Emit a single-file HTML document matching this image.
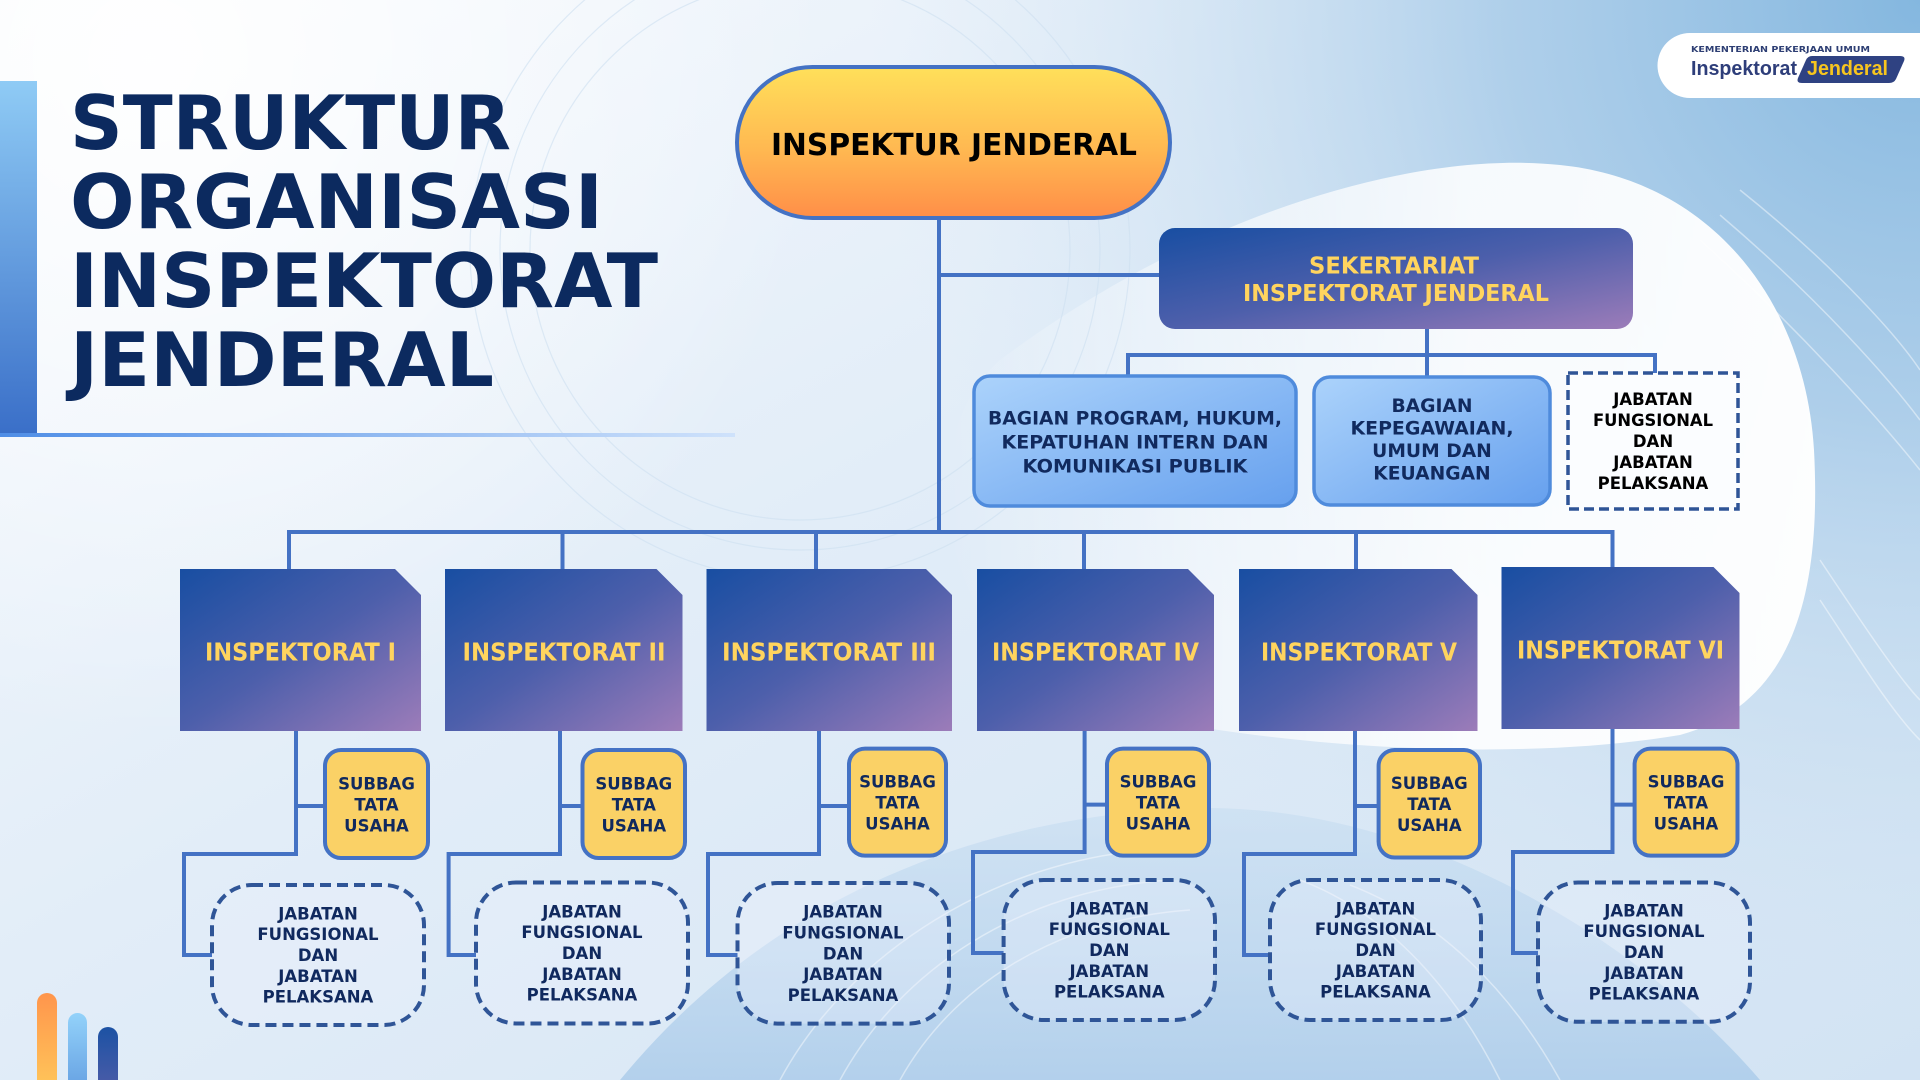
<!DOCTYPE html>
<html>
<head>
<meta charset="utf-8">
<style>
html,body{margin:0;padding:0;width:1920px;height:1080px;overflow:hidden;background:#e4eef8}
svg{display:block}
text{font-family:"DejaVu Sans","Liberation Sans",sans-serif;font-weight:bold}
</style>
</head>
<body>
<svg width="1920" height="1080" viewBox="0 0 1920 1080" xmlns="http://www.w3.org/2000/svg">
<defs>
  <linearGradient id="bgBase" x1="0" y1="0" x2="1" y2="1">
    <stop offset="0" stop-color="#f6f9fd"/>
    <stop offset="0.45" stop-color="#e2edf8"/>
    <stop offset="1" stop-color="#d2e3f3"/>
  </linearGradient>
  <radialGradient id="bgTR" gradientUnits="userSpaceOnUse" cx="1920" cy="0" r="1050">
    <stop offset="0" stop-color="#84b7df" stop-opacity="1"/>
    <stop offset="0.4" stop-color="#a6cae8" stop-opacity="0.85"/>
    <stop offset="1" stop-color="#d6e6f4" stop-opacity="0"/>
  </radialGradient>
  <radialGradient id="bgTL" gradientUnits="userSpaceOnUse" cx="150" cy="60" r="680">
    <stop offset="0" stop-color="#ffffff" stop-opacity="0.95"/>
    <stop offset="1" stop-color="#ffffff" stop-opacity="0"/>
  </radialGradient>
  <linearGradient id="blobG" x1="0" y1="0" x2="1" y2="0">
    <stop offset="0" stop-color="#ffffff" stop-opacity="0"/>
    <stop offset="0.3" stop-color="#ffffff" stop-opacity="0.55"/>
    <stop offset="0.6" stop-color="#ffffff" stop-opacity="0.88"/>
    <stop offset="1" stop-color="#ffffff" stop-opacity="0.97"/>
  </linearGradient>
  <linearGradient id="hillG" x1="0" y1="0" x2="0" y2="1">
    <stop offset="0" stop-color="#c3dbf0" stop-opacity="0.5"/>
    <stop offset="1" stop-color="#acccea" stop-opacity="0.85"/>
  </linearGradient>
  <linearGradient id="leftBar" x1="0" y1="0" x2="0" y2="1">
    <stop offset="0" stop-color="#8fcbf5"/>
    <stop offset="1" stop-color="#3a6fc8"/>
  </linearGradient>
  <linearGradient id="underline" x1="0" y1="0" x2="1" y2="0">
    <stop offset="0" stop-color="#4f8ee6"/>
    <stop offset="1" stop-color="#cfe2fb"/>
  </linearGradient>
  <linearGradient id="pill" x1="0" y1="0" x2="0" y2="1">
    <stop offset="0" stop-color="#ffe05a"/>
    <stop offset="0.55" stop-color="#ffb851"/>
    <stop offset="1" stop-color="#ff8e48"/>
  </linearGradient>
  <linearGradient id="navy" x1="0" y1="0" x2="1" y2="1">
    <stop offset="0" stop-color="#184ea2"/>
    <stop offset="0.5" stop-color="#4d5fab"/>
    <stop offset="1" stop-color="#9c7cb9"/>
  </linearGradient>
  <linearGradient id="lightBlue" x1="0" y1="0" x2="1" y2="1">
    <stop offset="0" stop-color="#acd3fb"/>
    <stop offset="1" stop-color="#66a0ee"/>
  </linearGradient>
  <linearGradient id="barO" x1="0" y1="0" x2="0" y2="1">
    <stop offset="0" stop-color="#ff954c"/>
    <stop offset="1" stop-color="#ffcd5c"/>
  </linearGradient>
  <linearGradient id="barL" x1="0" y1="0" x2="0" y2="1">
    <stop offset="0" stop-color="#93d2fa"/>
    <stop offset="1" stop-color="#5e98de"/>
  </linearGradient>
  <linearGradient id="barD" x1="0" y1="0" x2="0" y2="1">
    <stop offset="0" stop-color="#1c52a4"/>
    <stop offset="1" stop-color="#5a5fa9"/>
  </linearGradient>
</defs>

<!-- background -->
<rect x="0" y="0" width="1920" height="1080" fill="url(#bgBase)"/>
<rect x="0" y="0" width="1920" height="1080" fill="url(#bgTR)"/>
<rect x="0" y="0" width="1920" height="1080" fill="url(#bgTL)"/>
<path d="M1000 360 C1200 210,1420 150,1560 165 C1710 180,1805 300,1814 450 C1822 600,1790 705,1680 735 C1500 765,1250 745,1090 705 C950 660,900 450,1000 360 Z" fill="url(#blobG)"/>
<path d="M620 1080 C760 910,960 815,1200 808 C1420 805,1640 940,1760 1080 Z" fill="url(#hillG)"/>
<g fill="none" stroke="#ffffff" stroke-opacity="0.45" stroke-width="1.5">
  <path d="M1700 240 C1800 330,1880 420,1920 470"/>
  <path d="M1720 215 C1820 300,1890 380,1920 420"/>
  <path d="M1740 190 C1840 270,1900 340,1920 370"/>
  <path d="M1820 560 C1860 620,1900 680,1920 700"/>
  <path d="M1820 600 C1860 660,1890 710,1920 740"/>
  <path d="M780 1080 C850 950,1000 860,1150 850"/>
  <path d="M840 1080 C900 970,1020 890,1170 880"/>
  <path d="M900 1080 C950 990,1050 920,1190 910"/>
  <path d="M1500 1080 C1450 980,1380 910,1300 880"/>
  <path d="M1560 1080 C1510 990,1440 920,1350 885"/>
</g>
<g fill="none" stroke="#cddff0" stroke-opacity="0.6" stroke-width="1.2">
  <circle cx="800" cy="250" r="330"/>
  <circle cx="800" cy="250" r="300"/>
  <circle cx="800" cy="250" r="270"/>
</g>

<!-- left bar + title -->
<rect x="0" y="81" width="37" height="353" fill="url(#leftBar)"/>
<rect x="0" y="433" width="735" height="4" fill="url(#underline)"/>
<g fill="#0c2a5f" font-size="75">
  <text x="70" y="149" textLength="441" lengthAdjust="spacingAndGlyphs">STRUKTUR</text>
  <text x="70" y="228" textLength="533" lengthAdjust="spacingAndGlyphs">ORGANISASI</text>
  <text x="70" y="307" textLength="588" lengthAdjust="spacingAndGlyphs">INSPEKTORAT</text>
  <text x="70" y="386" textLength="424" lengthAdjust="spacingAndGlyphs">JENDERAL</text>
</g>

<!-- bottom-left bars -->
<rect x="37" y="993" width="20" height="110" rx="10" fill="url(#barO)"/>
<rect x="68" y="1013" width="19" height="90" rx="9.5" fill="url(#barL)"/>
<rect x="98" y="1027" width="20" height="80" rx="10" fill="url(#barD)"/>

<!-- logo -->
<path d="M1690 33 H1920 V98 H1690 A32.5 32.5 0 0 1 1690 33 Z" fill="#ffffff"/>
<text x="1691" y="52" font-size="8" fill="#2e3f74" textLength="179" lengthAdjust="spacingAndGlyphs">KEMENTERIAN PEKERJAAN UMUM</text>
<text x="1691" y="75" font-size="20" fill="#2e3e7a" textLength="106" lengthAdjust="spacingAndGlyphs" style="font-family:'Liberation Sans',sans-serif;font-weight:bold">Inspektorat</text>
<path d="M1812 56 H1900 Q1906 56 1904 61 L1896 79 Q1894 83 1889 83 H1802 Q1796 83 1798 78 L1806 60 Q1808 56 1812 56 Z" fill="#2f4282"/>
<text x="1807" y="75" font-size="20" fill="#f7c51e" textLength="81" lengthAdjust="spacingAndGlyphs" style="font-family:'Liberation Sans',sans-serif;font-weight:bold">Jenderal</text>

<!-- connectors -->
<g fill="none" stroke="#4472c4" stroke-width="4" stroke-linejoin="miter">
  <path d="M939 218 V532"/>
  <path d="M939 275 H1159"/>
  <path d="M1427 329 V377"/>
  <path d="M1128 377 V355 H1655 V373"/>
  <path d="M289 569 V532 H1612.5 V567"/>
  <path d="M562.5 532 V569"/>
  <path d="M816 532 V569"/>
  <path d="M1084 532 V569"/>
  <path d="M1356 532 V569"/>
  <path d="M296 731 V854 H184 V955 H212"/><path d="M296 806 H325"/>
  <path d="M560 731 V854 H448.6 V955 H476"/><path d="M560 806 H582.5"/>
  <path d="M819 731 V854 H708 V955 H737.5"/><path d="M819 806 H849"/>
  <path d="M1084.6 731 V852 H973 V953 H1003.6"/><path d="M1084.6 804.6 H1107"/>
  <path d="M1355 731 V854 H1244 V955 H1270"/><path d="M1355 806 H1378.6"/>
  <path d="M1612.5 729 V852 H1513 V953 H1538"/><path d="M1612.5 804.6 H1634.6"/>
</g>

<!-- Inspektur Jenderal -->
<rect x="737" y="67" width="433" height="151" rx="75.5" fill="url(#pill)" stroke="#4472c4" stroke-width="4"/>
<text x="954" y="155" font-size="30" fill="#000000" text-anchor="middle" textLength="366" lengthAdjust="spacingAndGlyphs">INSPEKTUR JENDERAL</text>

<!-- Sekretariat -->
<rect x="1159" y="228" width="474" height="101" rx="16" fill="url(#navy)"/>
<g fill="#ffd45e" font-size="23" text-anchor="middle">
  <text x="1394" y="273.5" textLength="170" lengthAdjust="spacingAndGlyphs">SEKERTARIAT</text>
  <text x="1396" y="301" textLength="306" lengthAdjust="spacingAndGlyphs">INSPEKTORAT JENDERAL</text>
</g>

<!-- Bagian boxes -->
<rect x="974" y="376" width="322" height="130" rx="16" fill="url(#lightBlue)" stroke="#4f8bdc" stroke-width="3.5"/>
<g fill="#112a5e" font-size="18.7" text-anchor="middle">
  <text x="1135" y="424.5" textLength="294" lengthAdjust="spacingAndGlyphs">BAGIAN PROGRAM, HUKUM,</text>
  <text x="1135" y="448.5" textLength="267" lengthAdjust="spacingAndGlyphs">KEPATUHAN INTERN DAN</text>
  <text x="1135" y="472.5" textLength="225" lengthAdjust="spacingAndGlyphs">KOMUNIKASI PUBLIK</text>
</g>
<rect x="1314" y="377" width="236" height="128" rx="16" fill="url(#lightBlue)" stroke="#4f8bdc" stroke-width="3.5"/>
<g fill="#112a5e" font-size="18.7" text-anchor="middle">
  <text x="1432" y="412">BAGIAN</text>
  <text x="1432" y="434.5" textLength="163" lengthAdjust="spacingAndGlyphs">KEPEGAWAIAN,</text>
  <text x="1432" y="457">UMUM DAN</text>
  <text x="1432" y="479.5">KEUANGAN</text>
</g>
<rect x="1568" y="373" width="170" height="136" fill="#fbfdff" stroke="#2f5597" stroke-width="3.5" stroke-dasharray="10 5"/>
<g fill="#000000" font-size="16.5" text-anchor="middle">
  <text x="1653" y="405">JABATAN</text>
  <text x="1653" y="426" textLength="120" lengthAdjust="spacingAndGlyphs">FUNGSIONAL</text>
  <text x="1653" y="447">DAN</text>
  <text x="1653" y="468">JABATAN</text>
  <text x="1653" y="489">PELAKSANA</text>
</g>

<!-- Inspektorat boxes -->
<g fill="url(#navy)">
  <polygon points="180,569 395,569 421,595 421,731 180,731"/>
  <polygon points="445,569 656.5,569 682.5,595 682.5,731 445,731"/>
  <polygon points="706.5,569 926,569 952,595 952,731 706.5,731"/>
  <polygon points="977,569 1188,569 1214,595 1214,731 977,731"/>
  <polygon points="1239,569 1451.5,569 1477.5,595 1477.5,731 1239,731"/>
  <polygon points="1501.5,567 1713.5,567 1739.5,593 1739.5,729 1501.5,729"/>
</g>
<g fill="#ffd45e" font-size="25" text-anchor="middle">
  <text x="300.5" y="660.5" textLength="191" lengthAdjust="spacingAndGlyphs">INSPEKTORAT I</text>
  <text x="564" y="660.5" textLength="203" lengthAdjust="spacingAndGlyphs">INSPEKTORAT II</text>
  <text x="829" y="660.5" textLength="214" lengthAdjust="spacingAndGlyphs">INSPEKTORAT III</text>
  <text x="1095.5" y="660.5" textLength="207" lengthAdjust="spacingAndGlyphs">INSPEKTORAT IV</text>
  <text x="1359" y="660.5" textLength="196" lengthAdjust="spacingAndGlyphs">INSPEKTORAT V</text>
  <text x="1620.5" y="658.5" textLength="207" lengthAdjust="spacingAndGlyphs">INSPEKTORAT VI</text>
</g>

<!-- Subbag boxes -->
<g fill="#fad166" stroke="#4472c4" stroke-width="4">
  <rect x="325" y="750" width="103" height="108" rx="16"/>
  <rect x="582.5" y="750" width="102.5" height="108" rx="16"/>
  <rect x="849" y="748.6" width="97" height="107" rx="16"/>
  <rect x="1107" y="748.6" width="102" height="107" rx="16"/>
  <rect x="1378.6" y="750" width="101.4" height="107.5" rx="16"/>
  <rect x="1634.6" y="748.6" width="102.9" height="107" rx="16"/>
</g>
<g fill="#10295e" font-size="16.5" text-anchor="middle">
  <text x="376.5" y="789.5">SUBBAG</text><text x="376.5" y="810.5">TATA</text><text x="376.5" y="831.5">USAHA</text>
  <text x="633.8" y="789.5">SUBBAG</text><text x="633.8" y="810.5">TATA</text><text x="633.8" y="831.5">USAHA</text>
  <text x="897.5" y="787.5">SUBBAG</text><text x="897.5" y="808.5">TATA</text><text x="897.5" y="829.5">USAHA</text>
  <text x="1158" y="787.5">SUBBAG</text><text x="1158" y="808.5">TATA</text><text x="1158" y="829.5">USAHA</text>
  <text x="1429.3" y="789">SUBBAG</text><text x="1429.3" y="810">TATA</text><text x="1429.3" y="831">USAHA</text>
  <text x="1686" y="787.5">SUBBAG</text><text x="1686" y="808.5">TATA</text><text x="1686" y="829.5">USAHA</text>
</g>

<!-- Jabatan boxes -->
<g fill="#eaf2fb" fill-opacity="0.35" stroke="#2f5597" stroke-width="4" stroke-dasharray="11 6">
  <rect x="212" y="885" width="212" height="140" rx="40"/>
  <rect x="476" y="882.5" width="212" height="141" rx="40"/>
  <rect x="737.5" y="883" width="211.5" height="140.6" rx="40"/>
  <rect x="1003.6" y="880" width="211.4" height="140" rx="40"/>
  <rect x="1270" y="880" width="211" height="140" rx="40"/>
  <rect x="1538" y="882.5" width="212" height="139.3" rx="40"/>
</g>
<g fill="#10295e" font-size="16.5" text-anchor="middle">
  <text x="318" y="919.4">JABATAN</text><text x="318" y="940.2">FUNGSIONAL</text><text x="318" y="961">DAN</text><text x="318" y="981.8">JABATAN</text><text x="318" y="1002.6">PELAKSANA</text>
  <text x="582" y="917.4">JABATAN</text><text x="582" y="938.2">FUNGSIONAL</text><text x="582" y="959">DAN</text><text x="582" y="979.8">JABATAN</text><text x="582" y="1000.6">PELAKSANA</text>
  <text x="843" y="917.7">JABATAN</text><text x="843" y="938.5">FUNGSIONAL</text><text x="843" y="959.3">DAN</text><text x="843" y="980.1">JABATAN</text><text x="843" y="1000.9">PELAKSANA</text>
  <text x="1109.3" y="914.4">JABATAN</text><text x="1109.3" y="935.2">FUNGSIONAL</text><text x="1109.3" y="956">DAN</text><text x="1109.3" y="976.8">JABATAN</text><text x="1109.3" y="997.6">PELAKSANA</text>
  <text x="1375.5" y="914.4">JABATAN</text><text x="1375.5" y="935.2">FUNGSIONAL</text><text x="1375.5" y="956">DAN</text><text x="1375.5" y="976.8">JABATAN</text><text x="1375.5" y="997.6">PELAKSANA</text>
  <text x="1644" y="916.4">JABATAN</text><text x="1644" y="937.2">FUNGSIONAL</text><text x="1644" y="958">DAN</text><text x="1644" y="978.8">JABATAN</text><text x="1644" y="999.6">PELAKSANA</text>
</g>
</svg>
</body>
</html>
